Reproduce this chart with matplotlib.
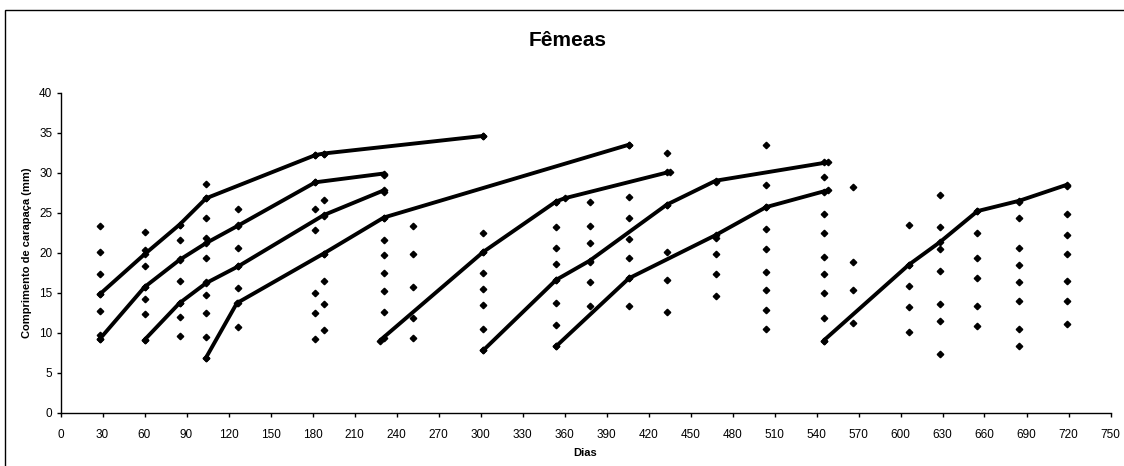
import matplotlib
matplotlib.use("Agg")
import matplotlib.pyplot as plt
from matplotlib.patches import Rectangle

plt.rcParams['font.family'] = ['Liberation Sans', 'DejaVu Sans']

# Scatter observations: day -> carapace lengths (mm)
obs_days = [28, 60, 85, 104, 127, 182, 188, 231, 252, 302, 354, 378,
            406, 433, 468, 504, 545, 566, 606, 628, 655, 685, 719]
obs_lengths = [
    [23.3, 20.1, 17.3, 14.8, 12.7, 9.7, 9.2],
    [22.6, 20.3, 18.4, 15.7, 14.2, 12.3, 9.1],
    [23.5, 21.6, 19.2, 16.5, 13.7, 12.0, 9.6],
    [28.6, 26.8, 24.4, 21.9, 19.3, 16.3, 14.7, 12.5, 9.5, 6.9],
    [25.5, 23.5, 20.6, 18.4, 15.6, 13.7, 10.7],
    [32.2, 28.8, 25.5, 22.8, 15.0, 12.5, 9.2],
    [32.3, 26.6, 24.6, 19.9, 16.5, 13.6, 10.3],
    [29.7, 27.6, 24.3, 21.6, 19.7, 17.5, 15.2, 12.6, 9.3],
    [23.4, 19.9, 15.7, 11.8, 9.3],
    [34.6, 22.5, 20.1, 17.5, 15.5, 13.5, 10.5, 7.8],
    [26.4, 23.2, 20.6, 18.6, 16.6, 13.7, 11.0, 8.3],
    [26.4, 23.4, 21.2, 18.8, 16.4, 13.3],
    [33.5, 27.0, 24.3, 21.7, 19.3, 16.8, 13.4],
    [32.5, 30.1, 26.0, 20.1, 16.6, 12.6],
    [28.8, 21.8, 19.8, 17.4, 14.6],
    [33.5, 28.5, 25.7, 23.0, 20.5, 17.6, 15.3, 12.9, 10.5],
    [31.4, 29.5, 27.6, 24.8, 22.5, 19.5, 17.4, 15.0, 11.9, 9.0],
    [28.2, 18.8, 15.3, 11.2],
    [23.5, 18.5, 15.8, 13.2, 10.1],
    [27.2, 23.2, 20.5, 17.7, 13.6, 11.5, 7.3],
    [25.2, 22.5, 19.4, 16.9, 13.3, 10.9],
    [26.3, 24.4, 20.6, 18.5, 16.4, 14.0, 10.5, 8.3],
    [28.3, 24.8, 22.2, 19.8, 16.5, 14.0, 11.1],
]

# Cohort growth lines
line1_x = [28, 60, 85, 104, 182, 188, 302]
line1_y = [14.8, 19.8, 23.5, 26.8, 32.2, 32.4, 34.6]
line2_x = [28, 60, 85, 104, 127, 182, 231]
line2_y = [9.2, 15.7, 19.1, 21.2, 23.4, 28.8, 29.9]
line3_x = [60, 85, 104, 127, 188, 231]
line3_y = [9.1, 13.7, 16.2, 18.3, 24.7, 27.8]
line4_x = [104, 126, 188, 231, 406]
line4_y = [6.9, 13.7, 19.9, 24.4, 33.5]
line5_x = [228, 302, 354, 360, 435]
line5_y = [9.0, 20.1, 26.4, 26.8, 30.1]
line6_x = [302, 354, 378, 433, 468, 548]
line6_y = [7.8, 16.6, 19.0, 26.0, 29.0, 31.3]
line7_x = [354, 406, 468, 504, 548]
line7_y = [8.3, 16.8, 22.2, 25.7, 27.8]
line8_x = [545, 606, 628, 655, 685, 719]
line8_y = [9.0, 18.5, 21.3, 25.2, 26.5, 28.5]

lines = [(line1_x, line1_y), (line2_x, line2_y), (line3_x, line3_y),
         (line4_x, line4_y), (line5_x, line5_y), (line6_x, line6_y),
         (line7_x, line7_y), (line8_x, line8_y)]

x_ticks = list(range(0, 751, 30))
y_ticks = list(range(0, 41, 5))

fig = plt.figure(figsize=(11.24, 4.66), dpi=100)
ax = fig.add_axes([60.5 / 1124, 1 - 412.7 / 466, 1050 / 1124, 320 / 466])

for d, ys in zip(obs_days, obs_lengths):
    ax.plot([d] * len(ys), ys, linestyle='none', marker='D', ms=3.3,
            color='black', zorder=3)

for lx, ly in lines:
    ax.plot(lx, ly, color='black', lw=2.8, marker='D', ms=3.3,
            solid_capstyle='butt', zorder=4)

ax.set_xlim(0, 750)
ax.set_ylim(0, 40)
ax.set_xticks(x_ticks)
ax.set_yticks(y_ticks)
ax.spines['top'].set_visible(False)
ax.spines['right'].set_visible(False)
for s in ['left', 'bottom']:
    ax.spines[s].set_linewidth(1.0)
ax.tick_params(axis='x', direction='out', length=3, width=1, pad=9, labelsize=8.5)
ax.tick_params(axis='y', direction='out', length=3, width=1, pad=3, labelsize=8.5)
ax.set_xlabel('Dias', fontsize=8, fontweight='bold', labelpad=5)
ax.set_ylabel('Comprimento de carapaça (mm)', fontsize=8, fontweight='bold', labelpad=5)

fig.text(568 / 1124, 1 - 41 / 466, 'Fêmeas', fontsize=15, fontweight='bold',
         ha='center', va='center')

fig.patches.append(Rectangle((5 / 1124, -0.1), 1.2, 1 - 10 / 466 + 0.1,
                             transform=fig.transFigure, fill=False,
                             edgecolor='black', lw=1.0))

fig.savefig('out.png', dpi=100)
